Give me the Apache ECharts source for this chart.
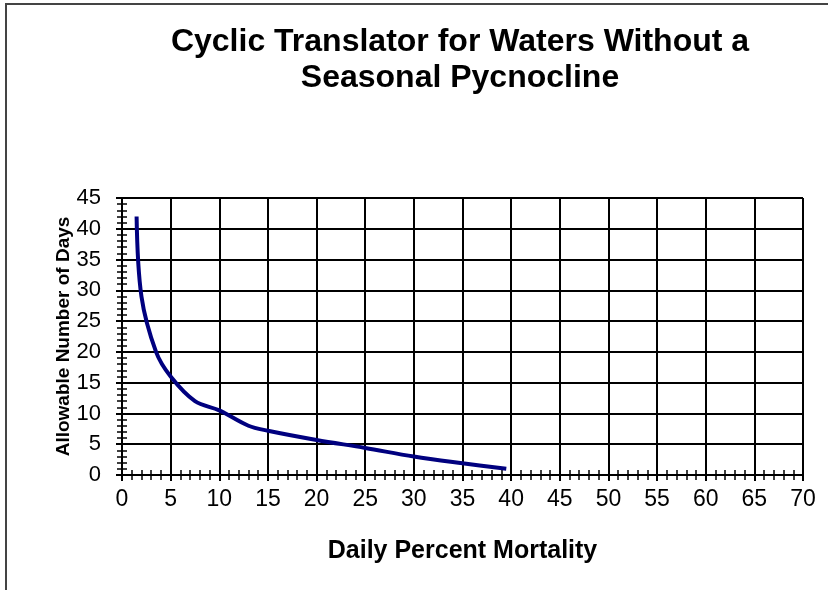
<!DOCTYPE html>
<html><head><meta charset="utf-8">
<script src="https://cdn.jsdelivr.net/npm/echarts@6/dist/echarts.min.js"></script>
<style>html,body{margin:0;padding:0;background:#fff}#c{width:828px;height:590px}</style>
</head><body><div id="c"></div>
<script>
const mortality = [1.5, 2, 3.5, 5, 7.5, 10, 13, 15, 20, 25, 30, 35, 39.5];
const days = [42, 29, 20, 16, 12, 10.5, 8, 7.2, 5.7, 4.4, 3, 1.9, 1];
const titleText = 'Cyclic Translator for Waters Without a\nSeasonal Pycnocline';
const xName = 'Daily Percent Mortality';
const yName = 'Allowable Number of Days';

const font = 'Liberation Sans, Arial, sans-serif';
const chart = echarts.init(document.getElementById('c'));
const makeAxis = (inside, labels, isX) => ({
  min: 0, max: isX ? 70 : 45, interval: 5, type: 'value',
  position: isX ? 'bottom' : 'left',
  axisLine: {show: true, lineStyle: {color: '#000', width: 2}},
  axisTick: {show: true, inside: inside, length: 6, lineStyle: {color: '#000', width: 2}},
  minorTick: {show: true, splitNumber: 5, length: 5, lineStyle: {color: '#000', width: 1.5}},
  splitLine: {show: labels, lineStyle: {color: '#000', width: 2}},
  axisLabel: {show: labels, color: '#000', fontSize: isX ? 23 : 22, fontFamily: font, margin: isX ? 13 : 21},
  name: labels ? (isX ? xName : yName) : '',
  nameLocation: 'middle',
  nameMoveOverlap: false,
  nameGap: isX ? 64 : 49,
  nameTextStyle: {color: '#000', fontWeight: 'bold', fontFamily: font, fontSize: isX ? 25 : 19}
});
chart.setOption({
  animation: false,
  backgroundColor: '#fff',
  graphic: [{type: 'rect', shape: {x: 6, y: 4, width: 900, height: 700}, style: {fill: 'none', stroke: '#444', lineWidth: 2}, z: 100}],
  title: {text: titleText, left: 455, top: 19, textAlign: 'center',
    textStyle: {color: '#000', fontSize: 32, fontWeight: 'bold', fontFamily: font, lineHeight: 36}},
  grid: {left: 122, top: 198, width: 681, height: 277},
  xAxis: [makeAxis(false, true, true), makeAxis(true, false, true)],
  yAxis: [makeAxis(false, true, false), makeAxis(true, false, false)],
  series: [{type: 'line', data: mortality.map((m, i) => [m, days[i]]), smooth: 0.35,
    showSymbol: false, lineStyle: {color: '#00007f', width: 4}, z: 10}]
});
</script></body></html>
